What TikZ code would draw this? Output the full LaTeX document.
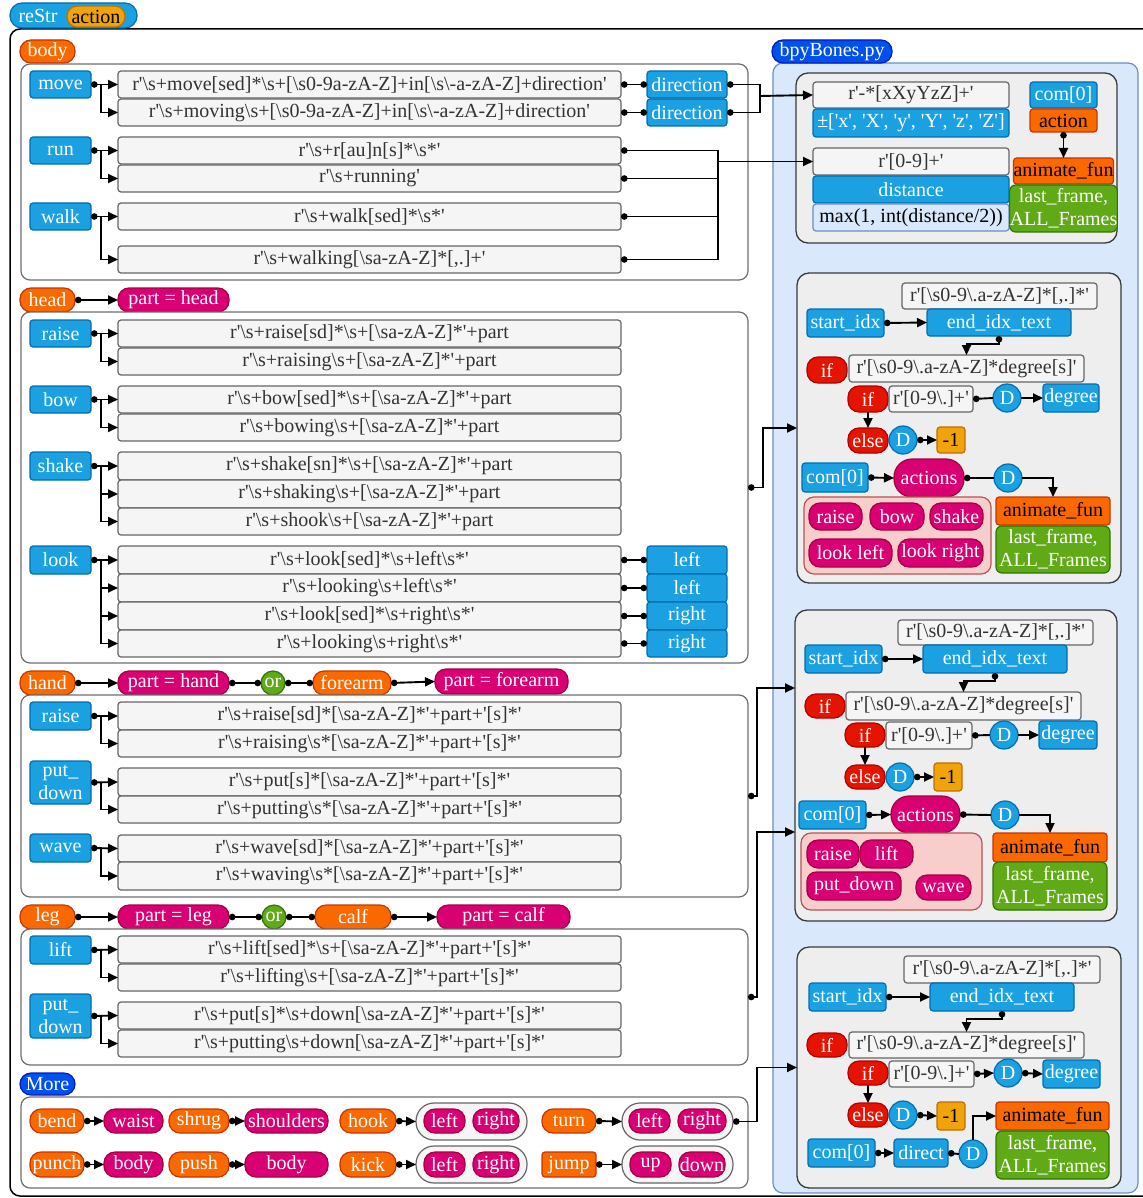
\documentclass[tikz,border=0pt]{standalone}
\usepackage{fontspec}
\setmainfont{Liberation Serif}[Ligatures=TeXOff]
\usetikzlibrary{arrows.meta}

\definecolor{cblue}{HTML}{1BA1E2}\definecolor{cblueD}{HTML}{006EAF}
\definecolor{corange}{HTML}{FA6800}\definecolor{corangeD}{HTML}{C73500}
\definecolor{cmag}{HTML}{D80073}\definecolor{cmagD}{HTML}{A50040}
\definecolor{cgreen}{HTML}{60A917}\definecolor{cgreenD}{HTML}{2D7600}
\definecolor{cred}{HTML}{E51400}\definecolor{credD}{HTML}{B20000}
\definecolor{camber}{HTML}{F0A30A}\definecolor{camberD}{HTML}{BD7000}
\definecolor{cdblue}{HTML}{0050EF}\definecolor{cdblueD}{HTML}{001DBC}
\definecolor{crxF}{HTML}{F5F5F5}\definecolor{crxD}{HTML}{666666}\definecolor{crxT}{HTML}{333333}
\definecolor{clbF}{HTML}{DAE8FC}\definecolor{clbD}{HTML}{6C8EBF}
\definecolor{cgpF}{HTML}{EEEEEE}\definecolor{cgpD}{HTML}{36393D}
\definecolor{cpkF}{HTML}{F8CECC}\definecolor{cpkD}{HTML}{B85450}
\definecolor{csecD}{HTML}{6E6E6E}

\newcommand\bs{\textbackslash}
\newcommand\fs{\fontsize{20}{23}\selectfont}
% box from corner (x1,y1) to (x2,y2): style, x1, y1, x2, y2, name, text
\newcommand\bx[7]{\node[#1, minimum width={(#4)-(#2)}, minimum height={(#5)-(#3)}] (#6) at ({((#2)+(#4))/2},{((#3)+(#5))/2}) {#7};}

\tikzset{
  every node/.style={inner sep=0pt, outer sep=0pt, align=center, font=\fs},
  box/.style={draw, line width=1.2pt},
  frame/.style={draw=black, line width=1.5pt, rounded corners=10pt},
  sec/.style={box, draw=csecD, fill=white, rounded corners=9pt},
  rx/.style={box, fill=crxF, draw=crxD, text=crxT, rounded corners=3pt},
  bluebox/.style={box, fill=cblue, draw=cblueD, text=white, rounded corners=3pt},
  lbox/.style={box, fill=clbF, draw=clbD, text=black, rounded corners=3pt},
  orbox/.style={box, fill=corange, draw=corangeD, text=black, rounded corners=3pt},
  orboxw/.style={box, fill=corange, draw=corangeD, text=white, rounded corners=3pt},
  grbox/.style={box, fill=cgreen, draw=cgreenD, text=white, rounded corners=6pt},
  ambox/.style={box, fill=camber, draw=camberD, text=black, rounded corners=3pt},
  pill/.style={box, rounded corners=11pt},
  orpill/.style={pill, fill=corange, draw=corangeD, text=white},
  magpill/.style={pill, fill=cmag, draw=cmagD, text=white},
  redpill/.style={pill, fill=cred, draw=credD, text=white},
  dbpill/.style={pill, fill=cdblue, draw=cdblueD, text=white},
  hdrpill/.style={pill, fill=cblue, draw=cblueD, rounded corners=12pt},
  ampill/.style={pill, fill=camber, draw=camberD, text=black, rounded corners=10pt},
  magbig/.style={box, fill=cmag, draw=cmagD, text=white, rounded corners=18pt},
  magsq/.style={box, fill=cmag, draw=cmagD, text=white, rounded corners=9pt},
  mgrp/.style={box, fill=crxF, draw=crxD, rounded corners=18pt},
  pgrp/.style={box, fill=cpkF, draw=cpkD, rounded corners=10pt},
  gpan/.style={box, fill=cgpF, draw=cgpD, rounded corners=12pt, line width=1.3pt},
  bpan/.style={box, fill=clbF, draw=clbD, rounded corners=10pt},
  dcirc/.style={box, circle, fill=cblue, draw=cblueD, text=white, minimum size=28pt},
  orcirc/.style={box, circle, fill=cgreen, draw=cgreenD, text=white, minimum size=24pt},
  con/.style={line width=1.9pt, draw=black},
  tipT/.tip={Triangle[length=10pt,width=9pt]},
  tipC/.tip={Circle[length=6.5pt]},
  arr/.style={con, -tipT},
  darr/.style={con, tipC-tipT},
  dd/.style={con, tipC-tipC},
  dl/.style={con, tipC-},
}

\begin{document}
\begin{tikzpicture}[x=1pt,y=-1pt]
\useasboundingbox (0,0) rectangle (1142,1198);

% outer frame and header
\bx{frame}{10}{29}{1175}{1196}{outer}{}
\bx{hdrpill}{10}{3}{137}{28}{restr}{}
\node[text=white] (restrlbl) at (38,16) {reStr};
\bx{ampill}{67}{6}{125}{27}{hdract}{action}

% right-hand panel
\bx{bpan}{773}{63}{1138}{1193}{bpy}{}
\bx{dbpill}{772}{40}{892}{63}{bpylbl}{bpyBones.py}

% ---------------- body ----------------
\bx{orpill}{20}{40}{75}{63}{body}{body}
\bx{sec}{21}{64}{748}{280}{bodybox}{}
\bx{bluebox}{30}{71}{91}{98}{move}{move}
\bx{rx}{118}{71}{621}{98}{mv1}{r'\bs s+move[sed]*\bs s+[\bs s0-9a-zA-Z]+in[\bs s\bs-a-zA-Z]+direction'}
\bx{rx}{118}{99}{621}{126}{mv2}{r'\bs s+moving\bs s+[\bs s0-9a-zA-Z]+in[\bs s\bs-a-zA-Z]+direction'}
\bx{bluebox}{647}{71}{727}{98}{dir1}{direction}
\bx{bluebox}{647}{99}{727}{126}{dir2}{direction}
\bx{bluebox}{30}{137}{91}{164}{run}{run}
\bx{rx}{118}{137}{621}{164}{rn1}{r'\bs s+r[au]n[s]*\bs s*'}
\bx{rx}{118}{165}{621}{192}{rn2}{r'\bs s+running'}
\bx{bluebox}{30}{203}{91}{230}{walk}{walk}
\bx{rx}{118}{203}{621}{230}{wk1}{r'\bs s+walk[sed]*\bs s*'}
\bx{rx}{118}{246}{621}{273}{wk2}{r'\bs s+walking[\bs sa-zA-Z]*[,.]+'}

% ---------------- head ----------------
\bx{orpill}{20}{288}{75}{312}{head}{head}
\bx{magpill}{118}{288}{229}{312}{parthead}{part = head}
\bx{sec}{21}{312}{748}{663}{headbox}{}
\bx{bluebox}{30}{320}{91}{347}{hraise}{raise}
\bx{rx}{118}{320}{621}{347}{hr1}{r'\bs s+raise[sd]*\bs s+[\bs sa-zA-Z]*'+part}
\bx{rx}{118}{348}{621}{375}{hr2}{r'\bs s+raising\bs s+[\bs sa-zA-Z]*'+part}
\bx{bluebox}{30}{386}{91}{413}{hbow}{bow}
\bx{rx}{118}{386}{621}{413}{hb1}{r'\bs s+bow[sed]*\bs s+[\bs sa-zA-Z]*'+part}
\bx{rx}{118}{414}{621}{441}{hb2}{r'\bs s+bowing\bs s+[\bs sa-zA-Z]*'+part}
\bx{bluebox}{30}{452}{91}{480}{hshake}{shake}
\bx{rx}{118}{452}{621}{480}{hs1}{r'\bs s+shake[sn]*\bs s+[\bs sa-zA-Z]*'+part}
\bx{rx}{118}{480}{621}{508}{hs2}{r'\bs s+shaking\bs s+[\bs sa-zA-Z]*'+part}
\bx{rx}{118}{508}{621}{535}{hs3}{r'\bs s+shook\bs s+[\bs sa-zA-Z]*'+part}
\bx{bluebox}{30}{546}{91}{574}{hlook}{look}
\bx{rx}{118}{546}{621}{574}{hl1}{r'\bs s+look[sed]*\bs s+left\bs s*'}
\bx{rx}{118}{574}{621}{602}{hl2}{r'\bs s+looking\bs s+left\bs s*'}
\bx{rx}{118}{602}{621}{630}{hl3}{r'\bs s+look[sed]*\bs s+right\bs s*'}
\bx{rx}{118}{630}{621}{657}{hl4}{r'\bs s+looking\bs s+right\bs s*'}
\bx{bluebox}{647}{546}{727}{574}{lft1}{left}
\bx{bluebox}{647}{574}{727}{602}{lft2}{left}
\bx{bluebox}{647}{602}{727}{630}{rgt1}{right}
\bx{bluebox}{647}{630}{727}{657}{rgt2}{right}

% ---------------- hand ----------------
\bx{orpill}{20}{671}{75}{695}{hand}{hand}
\bx{magpill}{118}{671}{229}{695}{parthand}{part = hand}
\node[orcirc] (or1) at (273,683) {or};
\bx{orpill}{313}{671}{391}{695}{forearm}{forearm}
\bx{magpill}{435}{669}{568}{694}{partfore}{part = forearm}
\bx{sec}{21}{695}{748}{897}{handbox}{}
\bx{bluebox}{30}{702}{91}{730}{araise}{raise}
\bx{rx}{118}{702}{621}{730}{ha1}{r'\bs s+raise[sd]*[\bs sa-zA-Z]*'+part+'[s]*'}
\bx{rx}{118}{730}{621}{757}{ha2}{r'\bs s+raising\bs s*[\bs sa-zA-Z]*'+part+'[s]*'}
\bx{bluebox}{30}{761}{91}{804}{aput}{put\_\\down}
\bx{rx}{118}{768}{621}{796}{hp1}{r'\bs s+put[s]*[\bs sa-zA-Z]*'+part+'[s]*'}
\bx{rx}{118}{796}{621}{823}{hp2}{r'\bs s+putting\bs s*[\bs sa-zA-Z]*'+part+'[s]*'}
\bx{bluebox}{30}{834}{91}{862}{awave}{wave}
\bx{rx}{118}{835}{621}{862}{hw1}{r'\bs s+wave[sd]*[\bs sa-zA-Z]*'+part+'[s]*'}
\bx{rx}{118}{862}{621}{890}{hw2}{r'\bs s+waving\bs s*[\bs sa-zA-Z]*'+part+'[s]*'}

% ---------------- leg ----------------
\bx{orpill}{20}{905}{75}{929}{leg}{leg}
\bx{magpill}{118}{905}{229}{929}{partleg}{part = leg}
\node[orcirc] (or2) at (274,917) {or};
\bx{orpill}{315}{905}{391}{929}{calf}{calf}
\bx{magpill}{437}{905}{570}{929}{partcalf}{part = calf}
\bx{sec}{21}{929}{748}{1065}{legbox}{}
\bx{bluebox}{30}{936}{91}{964}{llift}{lift}
\bx{rx}{118}{936}{621}{963}{la1}{r'\bs s+lift[sed]*\bs s+[\bs sa-zA-Z]*'+part+'[s]*'}
\bx{rx}{118}{964}{621}{991}{la2}{r'\bs s+lifting\bs s+[\bs sa-zA-Z]*'+part+'[s]*'}
\bx{bluebox}{30}{994}{91}{1038}{lput}{put\_\\down}
\bx{rx}{118}{1002}{621}{1029}{lp1}{r'\bs s+put[s]*\bs s+down[\bs sa-zA-Z]*'+part+'[s]*'}
\bx{rx}{118}{1030}{621}{1057}{lp2}{r'\bs s+putting\bs s+down[\bs sa-zA-Z]*'+part+'[s]*'}

% ---------------- more ----------------
\bx{dbpill}{20}{1073}{75}{1095}{more}{More}
\bx{sec}{21}{1097}{748}{1188}{morebox}{}
\bx{orpill}{30}{1109}{84}{1133}{bend}{bend}
\bx{magpill}{104}{1109}{163}{1133}{waist}{waist}
\bx{orpill}{169}{1109}{229}{1133}{shrug}{shrug}
\bx{magpill}{245}{1109}{328}{1133}{shoulders}{shoulders}
\bx{orpill}{340}{1109}{396}{1133}{hook}{hook}
\bx{mgrp}{416}{1103}{527}{1140}{g1}{}
\bx{magpill}{424}{1109}{465}{1133}{g1l}{left}
\bx{magpill}{473}{1109}{519}{1133}{g1r}{right}
\bx{orpill}{542}{1109}{596}{1133}{turn}{turn}
\bx{mgrp}{622}{1103}{733}{1140}{g2}{}
\bx{magpill}{629}{1109}{670}{1133}{g2l}{left}
\bx{magpill}{678}{1109}{726}{1133}{g2r}{right}
\bx{orpill}{30}{1152}{84}{1177}{punch}{punch}
\bx{magpill}{104}{1152}{163}{1177}{bodyA}{body}
\bx{orpill}{169}{1152}{229}{1177}{push}{push}
\bx{magpill}{245}{1152}{328}{1177}{bodyB}{body}
\bx{orpill}{340}{1152}{396}{1177}{kick}{kick}
\bx{mgrp}{416}{1146}{527}{1183}{g3}{}
\bx{magpill}{424}{1152}{465}{1177}{g3l}{left}
\bx{magpill}{473}{1152}{519}{1177}{g3r}{right}
\bx{orboxw}{542}{1152}{596}{1177}{jump}{jump}
\bx{mgrp}{622}{1146}{733}{1183}{g4}{}
\bx{magpill}{630}{1152}{671}{1177}{g4u}{up}
\bx{magpill}{679}{1152}{725}{1177}{g4d}{down}

% ---------------- panel 1 ----------------
\bx{gpan}{796}{73}{1117}{243}{p1}{}
\bx{rx}{813}{82}{1009}{108}{p1a}{r'-*[xXyYzZ]+'}
\bx{bluebox}{813}{109}{1009}{137}{p1b}{±['x', 'X', 'y', 'Y', 'z', 'Z']}
\bx{rx}{813}{148}{1009}{175}{p1c}{r'[0-9]+'}
\bx{bluebox}{813}{176}{1009}{203}{p1d}{distance}
\bx{lbox}{813}{204}{1009}{231}{p1e}{max(1, int(distance/2))}
\bx{bluebox}{1030}{82}{1097}{108}{p1com}{com[0]}
\bx{orbox}{1030}{109}{1097}{132}{p1act}{action}
\bx{orbox}{1015}{158}{1112}{184}{p1anim}{animate\_fun}
\bx{grbox}{1015}{185}{1112}{232}{p1last}{last\_frame,\\ALL\_Frames}

% ---------------- panel 2 ----------------
\bx{gpan}{797}{273}{1121}{583}{p2}{}
\bx{rx}{902}{283}{1097}{309}{p2rx0}{r'[\bs s0-9\bs.a-zA-Z]*[,.]*'}
\bx{bluebox}{807}{309}{884}{337}{p2st}{start\_idx}
\bx{bluebox}{927}{309}{1071}{336}{p2end}{end\_idx\_text}
\bx{redpill}{807}{357}{847}{383}{p2if}{if}
\bx{rx}{849}{355}{1084}{382}{p2rx1}{r'[\bs s0-9\bs.a-zA-Z]*degree[s]'}
\bx{redpill}{848}{386}{888}{412}{p2if2}{if}
\bx{rx}{889}{386}{973}{412}{p2rx2}{r'[0-9\bs.]+'}
\node[dcirc] (p2d1) at (1007,398) {D};
\bx{bluebox}{1043}{384}{1099}{412}{p2deg}{degree}
\bx{redpill}{848}{428}{888}{453}{p2else}{else}
\node[dcirc] (p2d2) at (903,440) {D};
\bx{ambox}{937}{427}{965}{453}{p2m1}{-1}
\bx{bluebox}{802}{463}{868}{492}{p2com}{com[0]}
\bx{magbig}{894}{459}{964}{497}{p2acts}{actions}
\node[dcirc] (p2d3) at (1008,478) {D};
\bx{pgrp}{804}{497}{991}{574}{p2grp}{}
\bx{magpill}{809}{503}{862}{530}{p2raise}{raise}
\bx{magpill}{870}{503}{924}{530}{p2bow}{bow}
\bx{magpill}{930}{503}{983}{530}{p2shake}{shake}
\bx{magpill}{809}{539}{892}{567}{p2ll}{look left}
\bx{magpill}{898}{539}{983}{567}{p2lr}{look right}
\bx{orbox}{996}{497}{1110}{525}{p2anim}{animate\_fun}
\bx{grbox}{996}{526}{1110}{573}{p2last}{last\_frame,\\ALL\_Frames}

% ---------------- panel 3 ----------------
\bx{gpan}{795}{610}{1117}{921}{p3}{}
\bx{rx}{898}{620}{1093}{645}{p3rx0}{r'[\bs s0-9\bs.a-zA-Z]*[,.]*'}
\bx{bluebox}{805}{645}{882}{673}{p3st}{start\_idx}
\bx{bluebox}{923}{645}{1067}{673}{p3end}{end\_idx\_text}
\bx{redpill}{805}{694}{845}{718}{p3if}{if}
\bx{rx}{846}{692}{1081}{720}{p3rx1}{r'[\bs s0-9\bs.a-zA-Z]*degree[s]'}
\bx{redpill}{845}{723}{885}{747}{p3if2}{if}
\bx{rx}{886}{722}{972}{749}{p3rx2}{r'[0-9\bs.]+'}
\node[dcirc] (p3d1) at (1004,735) {D};
\bx{bluebox}{1039}{721}{1097}{749}{p3deg}{degree}
\bx{redpill}{845}{765}{885}{789}{p3else}{else}
\node[dcirc] (p3d2) at (900,777) {D};
\bx{ambox}{934}{763}{962}{791}{p3m1}{-1}
\bx{bluebox}{799}{801}{866}{829}{p3com}{com[0]}
\bx{magbig}{891}{796}{960}{833}{p3acts}{actions}
\node[dcirc] (p3d3) at (1005,815) {D};
\bx{pgrp}{801}{833}{982}{910}{p3grp}{}
\bx{magpill}{807}{840}{859}{868}{p3raise}{raise}
\bx{magpill}{860}{840}{913}{868}{p3lift}{lift}
\bx{magsq}{807}{872}{901}{900}{p3put}{put\_down}
\bx{magpill}{916}{875}{971}{900}{p3wave}{wave}
\bx{orbox}{993}{833}{1107}{862}{p3anim}{animate\_fun}
\bx{grbox}{993}{862}{1107}{910}{p3last}{last\_frame,\\ALL\_Frames}

% ---------------- panel 4 ----------------
\bx{gpan}{797}{947}{1121}{1188}{p4}{}
\bx{rx}{904}{956}{1100}{983}{p4rx0}{r'[\bs s0-9\bs.a-zA-Z]*[,.]*'}
\bx{bluebox}{809}{983}{886}{1011}{p4st}{start\_idx}
\bx{bluebox}{930}{983}{1074}{1011}{p4end}{end\_idx\_text}
\bx{redpill}{807}{1033}{847}{1057}{p4if}{if}
\bx{rx}{849}{1032}{1084}{1058}{p4rx1}{r'[\bs s0-9\bs.a-zA-Z]*degree[s]'}
\bx{redpill}{848}{1061}{888}{1085}{p4if2}{if}
\bx{rx}{889}{1061}{974}{1087}{p4rx2}{r'[0-9\bs.]+'}
\node[dcirc] (p4d1) at (1008,1073) {D};
\bx{bluebox}{1043}{1060}{1100}{1088}{p4deg}{degree}
\bx{redpill}{848}{1103}{888}{1127}{p4else}{else}
\node[dcirc] (p4d2) at (903,1115) {D};
\bx{ambox}{937}{1102}{965}{1130}{p4m1}{-1}
\bx{orbox}{996}{1102}{1109}{1130}{p4anim}{animate\_fun}
\bx{grbox}{996}{1131}{1109}{1179}{p4last}{last\_frame,\\ALL\_Frames}
\bx{bluebox}{808}{1139}{875}{1167}{p4com}{com[0]}
\bx{bluebox}{894}{1139}{948}{1167}{p4dir}{direct}
\node[dcirc] (p4d3) at (973,1154) {D};

% ---------------- connectors: left fans ----------------
\draw[darr] (move.east) -- (mv1.west);
\draw[arr] (move.east) -- ++(10,0) |- (mv2.west);
\draw[darr] (run.east) -- (rn1.west);
\draw[arr] (run.east) -- ++(10,0) |- (rn2.west);
\draw[darr] (walk.east) -- (wk1.west);
\draw[arr] (walk.east) -- ++(10,0) |- (wk2.west);

\draw[darr] (hraise.east) -- (hr1.west);
\draw[arr] (hraise.east) -- ++(10,0) |- (hr2.west);
\draw[darr] (hbow.east) -- (hb1.west);
\draw[arr] (hbow.east) -- ++(10,0) |- (hb2.west);
\draw[darr] (hshake.east) -- (hs1.west);
\draw[arr] (hshake.east) -- ++(10,0) |- (hs2.west);
\draw[arr] (hshake.east) -- ++(10,0) |- (hs3.west);
\draw[darr] (hlook.east) -- (hl1.west);
\draw[arr] (hlook.east) -- ++(10,0) |- (hl2.west);
\draw[arr] (hlook.east) -- ++(10,0) |- (hl3.west);
\draw[arr] (hlook.east) -- ++(10,0) |- (hl4.west);

\draw[darr] (araise.east) -- (ha1.west);
\draw[arr] (araise.east) -- ++(10,0) |- (ha2.west);
\draw[darr] (aput.east) -- (hp1.west);
\draw[arr] (aput.east) -- ++(10,0) |- (hp2.west);
\draw[darr] (awave.east) -- (hw1.west);
\draw[arr] (awave.east) -- ++(10,0) |- (hw2.west);

\draw[darr] (llift.east) -- (la1.west);
\draw[arr] (llift.east) -- ++(10,0) |- (la2.west);
\draw[darr] (lput.east) -- (lp1.west);
\draw[arr] (lput.east) -- ++(10,0) |- (lp2.west);

% regex results
\draw[dd] (mv1.east) -- (dir1.west);
\draw[dd] (mv2.east) -- (dir2.west);
\draw[dd] (hl1.east) -- (lft1.west);
\draw[dd] (hl2.east) -- (lft2.west);
\draw[dd] (hl3.east) -- (rgt1.west);
\draw[dd] (hl4.east) -- (rgt2.west);

% section headers
\draw[darr] (head.east) -- (parthead.west);
\draw[darr] (hand.east) -- (parthand.west);
\draw[dd] (parthand.east) -- (or1.west);
\draw[dd] (or1.east) -- (forearm.west);
\draw[darr] (forearm.east) -- (partfore.west);
\draw[darr] (leg.east) -- (partleg.west);
\draw[dd] (partleg.east) -- (or2.west);
\draw[dd] (or2.east) -- (calf.west);
\draw[darr] (calf.east) -- (partcalf.west);

% more
\draw[darr] (bend.east) -- (waist.west);
\draw[darr] (shrug.east) -- (shoulders.west);
\draw[darr] (hook.east) -- (g1.west);
\draw[darr] (turn.east) -- (g2.west);
\draw[darr] (punch.east) -- (bodyA.west);
\draw[darr] (push.east) -- (bodyB.west);
\draw[darr] (kick.east) -- (g3.west);
\draw[darr] (jump.east) -- (g4.west);

% into the bpyBones panels
\coordinate (jd) at (760,96);
\draw[dd] (dir1.east) -| (jd) |- (dir2.east);
\draw[arr] (jd) -- (p1a.west);
\coordinate (jr) at (718,161.5);
\draw[dl] (rn1.east) -| (jr);
\draw[dl] (rn2.east) -| (jr);
\draw[dl] (wk1.east) -| (jr);
\draw[dl] (wk2.east) -| (jr);
\draw[arr] (jr) -- (p1c.west);
\draw[darr] (headbox.east) -- ++(15,0) |- (p2.west);
\coordinate (p3inA) at (795,688);
\coordinate (p3inB) at (795,832);
\draw[darr] (handbox.east) -- ++(9,0) |- (p3inA);
\draw[darr] (legbox.east) -- ++(9,0) |- (p3inB);
\draw[darr] (g2.east) -- ++(24,0) |- (p4.west);

% panel 1
\draw[darr] (p1act.south) -- (p1anim.north);

% panel 2
\draw[darr] (p2st.east) -- (p2end.west);
\draw[darr] (p2end.south) -- ++(0,8) -| (p2rx1.north);
\draw[dl] (p2rx2.east) -- (p2d1.west);
\draw[arr] (p2d1.east) -- (p2deg.west);
\draw[arr] (p2if2.south) -- (p2else.north);
\draw[darr] (p2d2.east) -- (p2m1.west);
\draw[darr] (p2com.east) -- (p2acts.west);
\draw[dl] (p2acts.east) -- (p2d3.west);
\draw[arr] (p2d3.east) -| (p2anim.north);

% panel 3
\draw[darr] (p3st.east) -- (p3end.west);
\draw[darr] (p3end.south) -- ++(0,8) -| (p3rx1.north);
\draw[dl] (p3rx2.east) -- (p3d1.west);
\draw[arr] (p3d1.east) -- (p3deg.west);
\draw[arr] (p3if2.south) -- (p3else.north);
\draw[darr] (p3d2.east) -- (p3m1.west);
\draw[darr] (p3com.east) -- (p3acts.west);
\draw[dl] (p3acts.east) -- (p3d3.west);
\draw[arr] (p3d3.east) -| (p3anim.north);

% panel 4
\draw[darr] (p4st.east) -- (p4end.west);
\draw[darr] (p4end.south) -- ++(0,8) -| (p4rx1.north);
\draw[darr] (p4rx2.east) -- (p4d1.west);
\draw[darr] (p4d1.east) -- (p4deg.west);
\draw[arr] (p4if2.south) -- (p4else.north);
\draw[darr] (p4d2.east) -- (p4m1.west);
\draw[darr] (p4com.east) -- (p4dir.west);
\draw[dl] (p4dir.east) -- (p4d3.west);
\draw[arr] (p4d3.north) |- (p4anim.west);
\end{tikzpicture}
\end{document}
